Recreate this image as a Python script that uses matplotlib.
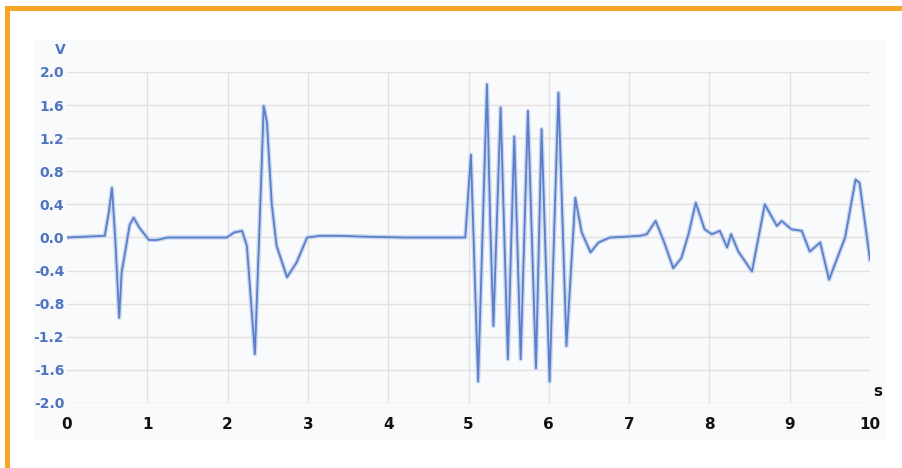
import matplotlib
matplotlib.use("Agg")
import matplotlib.pyplot as plt
from matplotlib.patches import Rectangle

# waveform (time in s, voltage in V)
t = [0.0, 0.47, 0.52, 0.56, 0.60, 0.65, 0.68, 0.72, 0.78, 0.83, 0.90, 1.02, 1.12, 1.25,
     1.99, 2.08, 2.18, 2.24, 2.34, 2.40, 2.45, 2.49, 2.55, 2.61, 2.74, 2.86, 2.99,
     3.15, 3.40, 3.70, 4.20, 4.96,
     5.03, 5.12, 5.23, 5.27, 5.31, 5.40, 5.49, 5.57, 5.65, 5.74, 5.84, 5.91, 6.01,
     6.12, 6.22, 6.33, 6.41, 6.52, 6.62, 6.76, 6.97, 7.14, 7.22, 7.33, 7.43, 7.55,
     7.65, 7.74, 7.83, 7.94, 8.03, 8.13, 8.22, 8.27, 8.36, 8.53, 8.69, 8.84, 8.90,
     9.02, 9.15, 9.25, 9.38, 9.49, 9.69, 9.82, 9.87, 10.0]
v = [0.0, 0.02, 0.30, 0.60, 0.00, -0.97, -0.42, -0.20, 0.15, 0.24, 0.12, -0.03, -0.03, 0.0,
     0.0, 0.06, 0.08, -0.10, -1.41, 0.20, 1.59, 1.39, 0.40, -0.10, -0.48, -0.30, 0.0,
     0.02, 0.02, 0.01, 0.0, 0.0,
     1.00, -1.74, 1.85, 0.20, -1.07, 1.57, -1.47, 1.22, -1.47, 1.53, -1.58, 1.31, -1.74,
     1.75, -1.31, 0.48, 0.06, -0.18, -0.06, 0.0, 0.01, 0.02, 0.04, 0.20, -0.04, -0.37,
     -0.25, 0.04, 0.42, 0.10, 0.04, 0.08, -0.12, 0.04, -0.17, -0.41, 0.40, 0.14, 0.20,
     0.10, 0.08, -0.17, -0.06, -0.51, 0.0, 0.70, 0.66, -0.27]

x_ticks = list(range(0, 11))
y_ticks = [2.0, 1.6, 1.2, 0.8, 0.4, 0.0, -0.4, -0.8, -1.2, -1.6, -2.0]

fig = plt.figure(figsize=(9.02, 4.68), dpi=100)
fig.patch.set_facecolor("white")

# faint panel behind the chart
fig.add_artist(Rectangle((33 / 902, 1 - 440 / 468), (885 - 33) / 902, (440 - 40) / 468,
                         transform=fig.transFigure, facecolor="#f9fafb", edgecolor="none", zorder=0))
# orange frame (left and top edges)
fig.add_artist(Rectangle((5 / 902, 0), 5 / 902, 1 - 6 / 468,
                         transform=fig.transFigure, facecolor="#f6a623", edgecolor="none"))
fig.add_artist(Rectangle((5 / 902, 1 - 11 / 468), 1, 5 / 468,
                         transform=fig.transFigure, facecolor="#f6a623", edgecolor="none"))

ax = fig.add_axes([67 / 902, 65 / 468, 803 / 902, 331 / 468])
ax.set_facecolor("white")
ax.patch.set_alpha(0.0)

for yy in y_ticks:
    ax.axhline(yy, color="#e4e0e0", lw=1.0, zorder=1)
for xx in x_ticks[1:]:
    ax.axvline(xx, color="#e0e0e0", lw=0.9, zorder=1)

ax.plot(t, v, color="#c9d6f0", lw=3.2, solid_joinstyle="round", zorder=2)
ax.plot(t, v, color="#5b7fc9", lw=1.3, solid_joinstyle="round", zorder=3)

ax.set_xlim(0, 10)
ax.set_ylim(-2.0, 2.0)
ax.set_xticks(x_ticks)
ax.set_xticklabels([str(x) for x in x_ticks], fontsize=11, fontweight="bold", color="#111111")
ax.set_yticks(y_ticks)
ax.set_yticklabels([f"{y:.1f}" for y in y_ticks], fontsize=10, fontweight="bold", color="#4f74c2")
ax.tick_params(axis="x", length=0, pad=10)
ax.tick_params(axis="y", length=0, pad=2)
for s in ax.spines.values():
    s.set_visible(False)

fig.text(60 / 902, 1 - 50 / 468, "V", fontsize=10, fontweight="bold", color="#4f74c2",
         ha="center", va="center")
fig.text(878 / 902, 1 - 392 / 468, "s", fontsize=11, fontweight="bold", color="#111111",
         ha="center", va="center")

fig.savefig("out.png", dpi=100)
